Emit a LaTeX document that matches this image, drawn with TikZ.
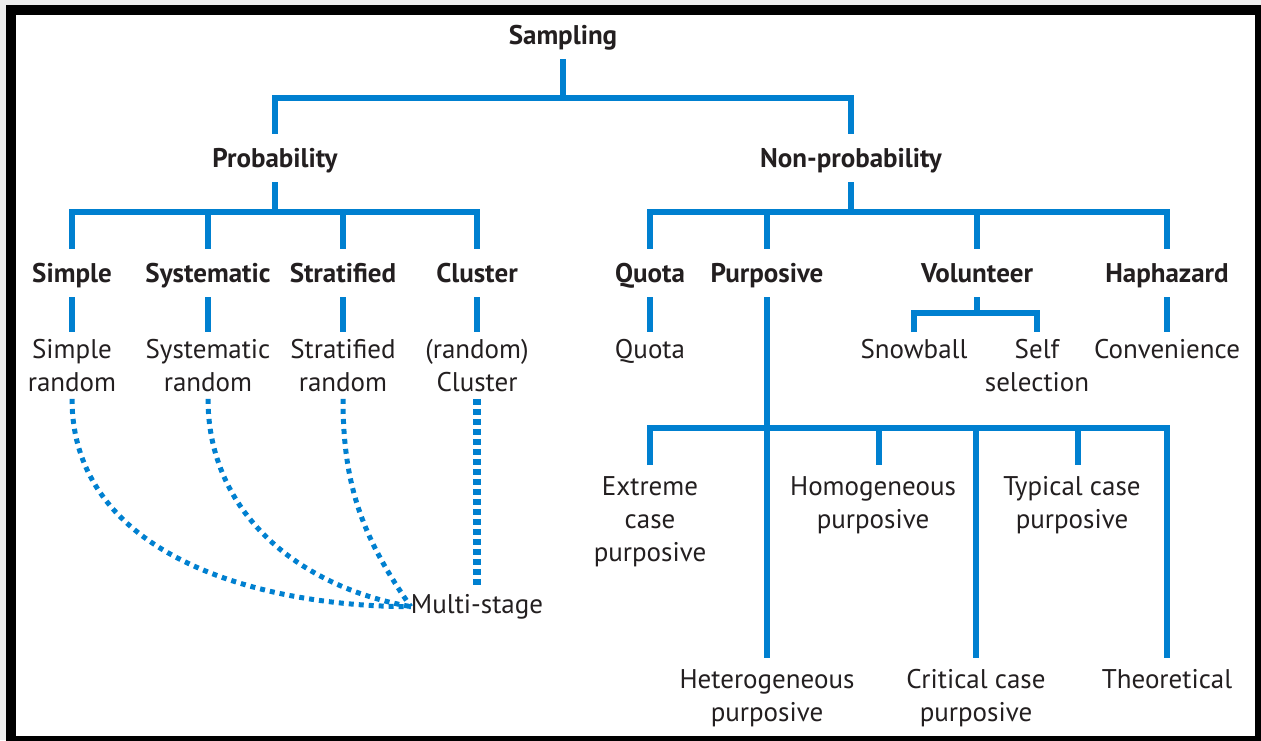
\documentclass[tikz,border=0pt]{standalone}
\usepackage{fontspec}
\setmainfont{PT Sans}
\definecolor{branch}{RGB}{0,128,208}
\definecolor{ink}{RGB}{35,31,32}
\begin{document}
\begin{tikzpicture}[x=1pt,y=-1pt,
  every node/.style={text=ink, inner xsep=0pt, align=center,
    font=\fontsize{27}{33}\selectfont},
  head/.style={font=\fontsize{27}{33}\selectfont\bfseries,
    text height=33pt, text depth=15pt, inner ysep=0pt, anchor=base},
  leaf/.style={anchor=north, inner ysep=7pt},
  deep/.style={anchor=north, inner ysep=11pt},
  link/.style={draw=branch, line width=5.5pt},
  trail/.style={draw=branch, line width=5pt, dash pattern=on 5pt off 5pt},
  heavy trail/.style={draw=branch, line width=7.5pt, dash pattern=on 6.5pt off 3.5pt}]

% page, frame
\useasboundingbox (0,0) rectangle (1261,740);
\fill[black!7] (0,0) rectangle (1261,740);
\filldraw[fill=white, draw=black, line width=10pt] (10.5,10) rectangle (1259.5,740.5);

% headings
\node[head] (samp)  at (563,44)  {Sampling};
\node[head] (prob)  at (275,167) {Probability};
\node[head] (nonp)  at (851,167) {Non-probability};
\node[head] (simp)  at (72,282)  {Simple};
\node[head] (syst)  at (208,282) {Systematic};
\node[head] (strat) at (343,282) {Stratified};
\node[head] (clus)  at (477,282) {Cluster};
\node[head] (quot)  at (650,282) {Quota};
\node[head] (purp)  at (767,282) {Purposive};
\node[head] (volu)  at (977,282) {Volunteer};
\node[head] (haph)  at (1167,282) {Haphazard};

% techniques
\node[leaf] (srand)   at (72,332)  {Simple\\random};
\node[leaf] (sysrand) at (208,332) {Systematic\\random};
\node[leaf] (strand)  at (343,332) {Stratified\\random};
\node[leaf] (clrand)  at (477,332) {(random)\\Cluster};
\node[leaf] (quota)   at (650,332) {Quota};
\node[leaf] (snow)    at (914,332) {Snowball};
\node[leaf] (self)    at (1037,332) {Self\\selection};
\node[leaf] (conv)    at (1167,332) {Convenience};
\node[leaf] (multi)   at (477,587) {Multi-stage};

% purposive variants
\node[deep] (extr) at (650,465)  {Extreme\\case\\purposive};
\node[deep] (homo) at (873,465)  {Homogeneous\\purposive};
\node[deep] (typi) at (1072,465) {Typical case\\purposive};
\node[deep] (hete) at (767,658)  {Heterogeneous\\purposive};
\node[deep] (crit) at (976,658)  {Critical case\\purposive};
\node[deep] (theo) at (1167,658) {Theoretical};

% branch points
\coordinate (j0) at (563,98);
\coordinate (jp) at (275,212);
\coordinate (jn) at (851,212);
\coordinate (jv) at (977,313);
\coordinate (jq) at (767,428);
\coordinate (hstem) at (879,0);
\coordinate (tstem) at (1078,0);

% top split
\draw[link] (samp.south) -- (j0);
\draw[link] (prob.north) |- (j0) -| (nonp.north);

% probability side
\draw[link] (prob.south) -- (jp);
\draw[link] (simp.north) |- (jp) -| (clus.north);
\draw[link] (syst.north) -- (syst.north |- jp);
\draw[link] (strat.north) -- (strat.north |- jp);
\draw[link] (simp.south) -- (srand.north);
\draw[link] (syst.south) -- (sysrand.north);
\draw[link] (strat.south) -- (strand.north);
\draw[link] (clus.south) -- (clrand.north);

% non-probability side
\draw[link] (nonp.south) -- (jn);
\draw[link] (quot.north) |- (jn) -| (haph.north);
\draw[link] (purp.north) -- (purp.north |- jn);
\draw[link] (volu.north) -- (volu.north |- jn);
\draw[link] (quot.south) -- (quota.north);
\draw[link] (haph.south) -- (conv.north);
\draw[link] (volu.south) -- (jv);
\draw[link] (snow.north) |- (jv) -| (self.north);

% purposive sub-tree
\draw[link] (purp.south) -- (hete.north);
\draw[link] (extr.north) |- (jq) -| (theo.north);
\draw[link] (jq -| crit.north) -- (crit.north);
\draw[link] (jq -| hstem) -- (hstem |- homo.north);
\draw[link] (jq -| tstem) -- (tstem |- typi.north);

% multi-stage links
\draw[trail] (srand.south) to[out=-90,in=180] (multi.west);
\draw[trail] (sysrand.south) to[out=-90,in=170] (multi.west);
\draw[trail] (strand.south) to[out=-90,in=125] (multi.west);
\draw[heavy trail] (clrand.south) -- (multi.north);
\end{tikzpicture}
\end{document}
